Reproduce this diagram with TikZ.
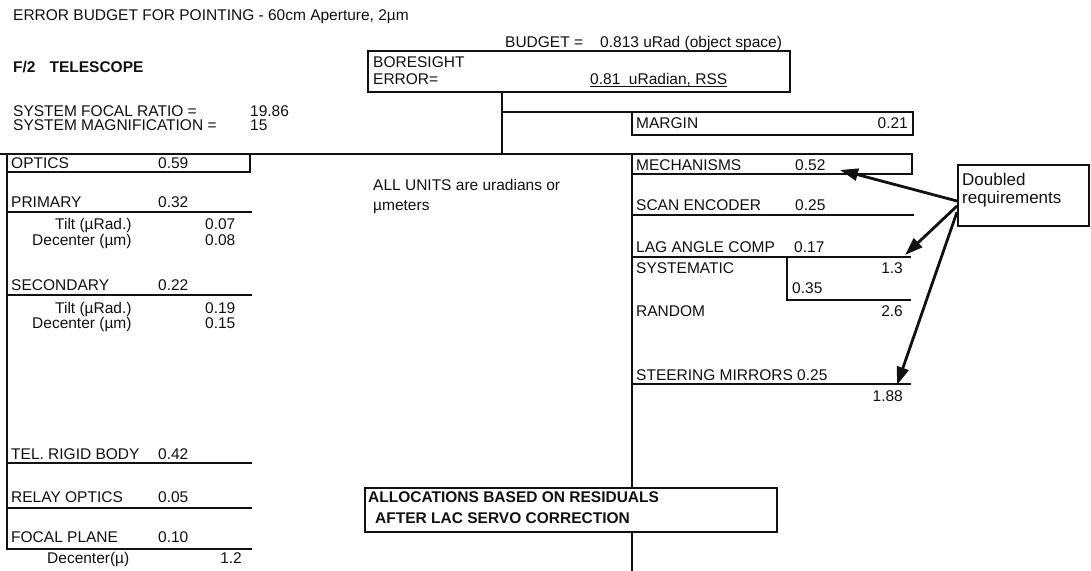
\documentclass[tikz,border=0pt]{standalone}
\usepackage{fontspec}
\setmainfont{Liberation Sans}
\usetikzlibrary{arrows.meta,positioning}
\definecolor{budgetInk}{HTML}{111111}

\begin{document}
\begin{tikzpicture}[x=1pt,y=-1pt,font=\fontsize{15.5}{18}\selectfont,
    lbl/.style={anchor=base west,inner sep=0pt,text=budgetInk},
    rlbl/.style={anchor=base east,inner sep=0pt,text=budgetInk},
    rule/.style={draw=budgetInk,line width=2.6pt,line cap=rect,line join=miter},
    hair/.style={draw=budgetInk,line width=0.7pt},
    callout/.style={draw=budgetInk,line width=2.8pt,
                    -{Triangle[length=18pt,width=12pt]}}]
  \useasboundingbox[fill=white] (0,0) rectangle (1091,570);

  % header
  \node[lbl] (title) at (13,20) {ERROR BUDGET FOR POINTING - 60cm Aperture, 2µm};
  \node[lbl,font=\fontsize{15.5}{18}\selectfont\bfseries] (scope) at (13,72) {F/2\hspace{14pt}TELESCOPE};
  \node[lbl] (ratio) at (13,116) {SYSTEM FOCAL RATIO =};
  \node[lbl] (ratioval) at (250,116) {19.86};
  \node[lbl] (magn) at (13,130) {SYSTEM MAGNIFICATION =};
  \node[lbl] (magnval) at (250,130) {15};
  \node[lbl] (budget) at (505,47) {BUDGET =};
  \node[lbl] (budgetval) at (600,47) {0.813 uRad (object space)};

  % boresight box and trunk
  \coordinate (bsNW) at (368,51);
  \coordinate (bsSE) at (790,92);
  \draw[rule] (bsNW) rectangle (bsSE);
  \node[lbl] (bore) at (373,67) {BORESIGHT};
  \node[lbl] (err) at (373,84) {ERROR=};
  \node[lbl] (errval) at (590,84) {0.81\ \ uRadian, RSS};
  \draw[hair] ([yshift=-2pt]errval.base west) -- ([yshift=-2pt]errval.base east);

  \coordinate (bsFoot) at (502,92);
  \coordinate (splitA) at (502,112);
  \coordinate (splitB) at (502,154);
  \coordinate (lTop) at (7,154);
  \coordinate (rTop) at (632,154);
  \coordinate (rFoot) at (632,570);
  \draw[rule] (bsFoot) -- (splitB);
  \draw[rule] (0,154) -- (rTop);

  % margin
  \draw[rule] (splitA) -- (913,112) -- (913,135) -- (632,135) -- (632,112);
  \node[lbl] (margin) at (636,128) {MARGIN};
  \node[rlbl] (marginval) at (908,128) {0.21};

  % optics branch
  \draw[rule] (lTop) -- (250,154) -- (250,172) -- (7,172);
  \draw[rule] (lTop) -- (7,549);
  \foreach \yy in {212,295,463,508,549}
    \draw[rule] (7,\yy) -- (251,\yy);
  \node[lbl] (optics) at (11,168) {OPTICS};
  \node[lbl] (opticsval) at (158,168) {0.59};
  \node[lbl] (prim) at (11,207) {PRIMARY};
  \node[lbl] (primval) at (158,207) {0.32};
  \node[lbl] (ptilt) at (55,229) {Tilt (µRad.)};
  \node[lbl] (ptiltval) at (205,229) {0.07};
  \node[lbl] (pdec) at (32,245) {Decenter (µm)};
  \node[lbl] (pdecval) at (205,245) {0.08};
  \node[lbl] (sec) at (11,290) {SECONDARY};
  \node[lbl] (secval) at (158,290) {0.22};
  \node[lbl] (stilt) at (55,313) {Tilt (µRad.)};
  \node[lbl] (stiltval) at (205,313) {0.19};
  \node[lbl] (sdec) at (32,328) {Decenter (µm)};
  \node[lbl] (sdecval) at (205,328) {0.15};
  \node[lbl] (rigid) at (11,459) {TEL. RIGID BODY};
  \node[lbl] (rigidval) at (158,459) {0.42};
  \node[lbl] (relay) at (11,502) {RELAY OPTICS};
  \node[lbl] (relayval) at (158,502) {0.05};
  \node[lbl] (fplane) at (11,542) {FOCAL PLANE};
  \node[lbl] (fplaneval) at (158,542) {0.10};
  \node[lbl] (fdec) at (47,563) {Decenter(µ)};
  \node[rlbl] (fdecval) at (242,563) {1.2};

  \node[lbl] (units) at (373,190) {ALL UNITS are uradians or};
  \node[lbl] (units2) at (373,210) {µmeters};

  % mechanisms branch
  \draw[rule] (rTop) -- (rFoot);
  \draw[rule] (rTop) -- (912,154) -- (912,174) -- (632,174);
  \draw[rule] (632,215) -- (913,215);
  \draw[rule] (632,257) -- (910,257);
  \draw[rule] (787,257) -- (787,300) -- (910,300);
  \draw[rule] (632,384) -- (910,384);
  \node[lbl] (mech) at (636,170) {MECHANISMS};
  \node[lbl] (mechval) at (795,170) {0.52};
  \node[lbl] (scan) at (636,210) {SCAN ENCODER};
  \node[lbl] (scanval) at (795,210) {0.25};
  \node[lbl] (lag) at (636,252) {LAG ANGLE COMP};
  \node[lbl] (lagval) at (794,252) {0.17};
  \node[lbl] (syst) at (636,273) {SYSTEMATIC};
  \node[rlbl] (systval) at (903,273) {1.3};
  \node[lbl] (systlow) at (792,293) {0.35};
  \node[lbl] (rand) at (636,316) {RANDOM};
  \node[rlbl] (randval) at (903,316) {2.6};
  \node[lbl] (steer) at (636,380) {STEERING MIRRORS 0.25};
  \node[rlbl] (steerval) at (903,401) {1.88};

  % allocations note over the trunk
  \draw[rule,fill=white] (365,488) rectangle (777,532);
  \node[lbl,font=\fontsize{15.5}{18}\selectfont\bfseries] (alloc) at (368,502) {ALLOCATIONS BASED ON RESIDUALS};
  \node[lbl,font=\fontsize{15.5}{18}\selectfont\bfseries] (alloc2) at (375,523) {AFTER LAC SERVO CORRECTION};

  % doubled requirements callout
  \draw[rule] (958,165) rectangle (1089,226);
  \node[lbl,font=\fontsize{17}{19}\selectfont] (dbl) at (962,185) {Doubled};
  \node[lbl,font=\fontsize{17}{19}\selectfont] (dbl2) at (962,203) {requirements};
  \coordinate (dblA) at (957,201);
  \coordinate (dblB) at (957,206);
  \coordinate (dblC) at (957,212);
  \coordinate (tipMech) at (840,170);
  \coordinate (tipLag) at (905,255);
  \coordinate (tipSteer) at (897,385);
  \draw[callout] (dblA) -- (tipMech);
  \draw[callout] (dblB) -- (tipLag);
  \draw[callout] (dblC) -- (tipSteer);
\end{tikzpicture}
\end{document}
